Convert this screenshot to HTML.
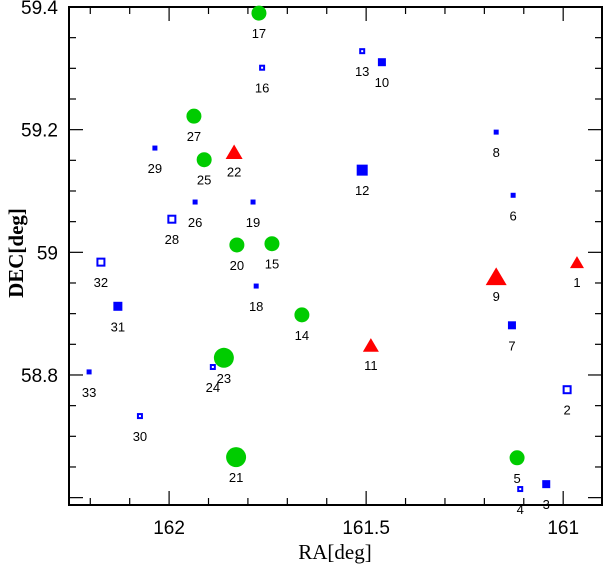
<!DOCTYPE html>
<html><head><meta charset="utf-8"><style>
html,body{margin:0;padding:0;background:#fff;}
svg{display:block;}
</style></head><body>
<svg id="chart" width="603" height="565" xmlns="http://www.w3.org/2000/svg"></svg>
<script>
const ids = [1,2,3,4,5,6,7,8,9,10,11,12,13,14,15,16,17,18,19,20,21,22,23,24,25,26,27,28,29,30,31,32,33];
const raValues = [160.965,160.990,161.043,161.109,161.117,161.127,161.130,161.170,161.170,161.460,161.488,161.510,161.510,161.663,161.739,161.764,161.772,161.779,161.787,161.828,161.830,161.835,161.861,161.889,161.911,161.934,161.937,161.993,162.036,162.074,162.130,162.173,162.203];
const decValues = [58.984,58.776,58.622,58.614,58.665,59.093,58.881,59.196,58.961,59.310,58.849,59.134,59.328,58.898,59.014,59.301,59.390,58.945,59.082,59.012,58.666,59.164,58.828,58.813,59.151,59.082,59.222,59.054,59.170,58.733,58.912,58.984,58.805];
const markerTypes = ['t','so','sf','so','c','sf','sf','sf','t','sf','t','sf','so','c','c','so','c','sf','sf','c','c','t','c','so','c','sf','c','so','sf','so','sf','so','sf'];
const markerSizes = [14,9,8,6,15,5,8,5,21,8,16,11,6,15,15,6,15,5,5,15,20,17,20,6,15,5,15,9,5,6,9,9,5];
const xTickLabels = ['162','161.5','161'];
const xTickValues = [162,161.5,161];
const yTickLabels = ['58.8','59','59.2','59.4'];
const yTickValues = [58.8,59.0,59.2,59.4];

const L=69,R=602,T=7,B=505;
const raL=162.254, raR=160.9015, decB=58.588, decT=59.4;
const xs=v=>L+(raL-v)/(raL-raR)*(R-L);
const ys=v=>B-(v-decB)/(decT-decB)*(B-T);
const NS='http://www.w3.org/2000/svg';
const svg=document.getElementById('chart');
function mk(tag,attrs,parent){const e=document.createElementNS(NS,tag);for(const k in attrs)e.setAttribute(k,attrs[k]);(parent||svg).appendChild(e);return e;}

const box=mk('rect',{x:L,y:T,width:R-L,height:B-T,fill:'none',stroke:'#000','stroke-width':2});



for(let i=0;i<=14;i++){
  const v=162.2-i*0.1; if(v<raR) break;
  const x=xs(v); const major=Math.abs(v*2-Math.round(v*2))<1e-6;
  const len=major?14:7;
  const t1=mk('line',{x1:x,y1:B,x2:x,y2:B-len,stroke:'#000','stroke-width':1.2});
  
  
  const t2=mk('line',{x1:x,y1:T,x2:x,y2:T+len,stroke:'#000','stroke-width':1.2});
  
  
}
for(let i=0;i<=20;i++){
  const v=58.6+i*0.05; if(v>decT+1e-6) break;
  const y=ys(v); const major=Math.abs(v*5-Math.round(v*5))<1e-6;
  const len=major?14:7;
  const t1=mk('line',{x1:L,y1:y,x2:L+len,y2:y,stroke:'#000','stroke-width':1.2});
  
  
  const t2=mk('line',{x1:R,y1:y,x2:R-len,y2:y,stroke:'#000','stroke-width':1.2});
  
  
}
xTickLabels.forEach((s,i)=>{
  const t=mk('text',{x:xs(xTickValues[i]),y:534,'text-anchor':'middle','font-family':'Liberation Sans, sans-serif','font-size':19});
  t.textContent=s;
  
  
});
yTickLabels.forEach((s,i)=>{
  const t=mk('text',{x:58,y:ys(yTickValues[i])+7,'text-anchor':'end','font-family':'Liberation Sans, sans-serif','font-size':19});
  t.textContent=s;
  
  
});
const xt=mk('text',{x:335,y:559,'text-anchor':'middle','font-family':'Liberation Serif, serif','font-size':21});
xt.textContent='RA[deg]';


const yt=mk('text',{x:0,y:0,'text-anchor':'middle','font-family':'Liberation Serif, serif','font-size':21,'font-weight':'bold',transform:'translate(23,253) rotate(-90)'});
yt.textContent='DEC[deg]';



ids.forEach((id,i)=>{
  const x=xs(raValues[i]), y=ys(decValues[i]), s=markerSizes[i], ty=markerTypes[i];
  let m;
  if(ty==='c') m=mk('circle',{cx:x,cy:y,r:s/2,fill:'#00cc00'});
  else if(ty==='t'){const h=s*0.85;m=mk('polygon',{points:`${x-s/2},${y+h/2} ${x+s/2},${y+h/2} ${x},${y-h/2}`,fill:'#ff0000'});}
  else if(ty==='sf') m=mk('rect',{x:x-s/2,y:y-s/2,width:s,height:s,fill:'#0000ff'});
  else m=mk('rect',{x:x-s/2+1,y:y-s/2+1,width:s-2,height:s-2,fill:'none',stroke:'#0000ff','stroke-width':2});
  
  
  const lbl=mk('text',{x:x,y:y+25,'text-anchor':'middle','font-family':'Liberation Sans, sans-serif','font-size':13});
  lbl.textContent=String(id);
  
  
});
</script>
</body></html>
